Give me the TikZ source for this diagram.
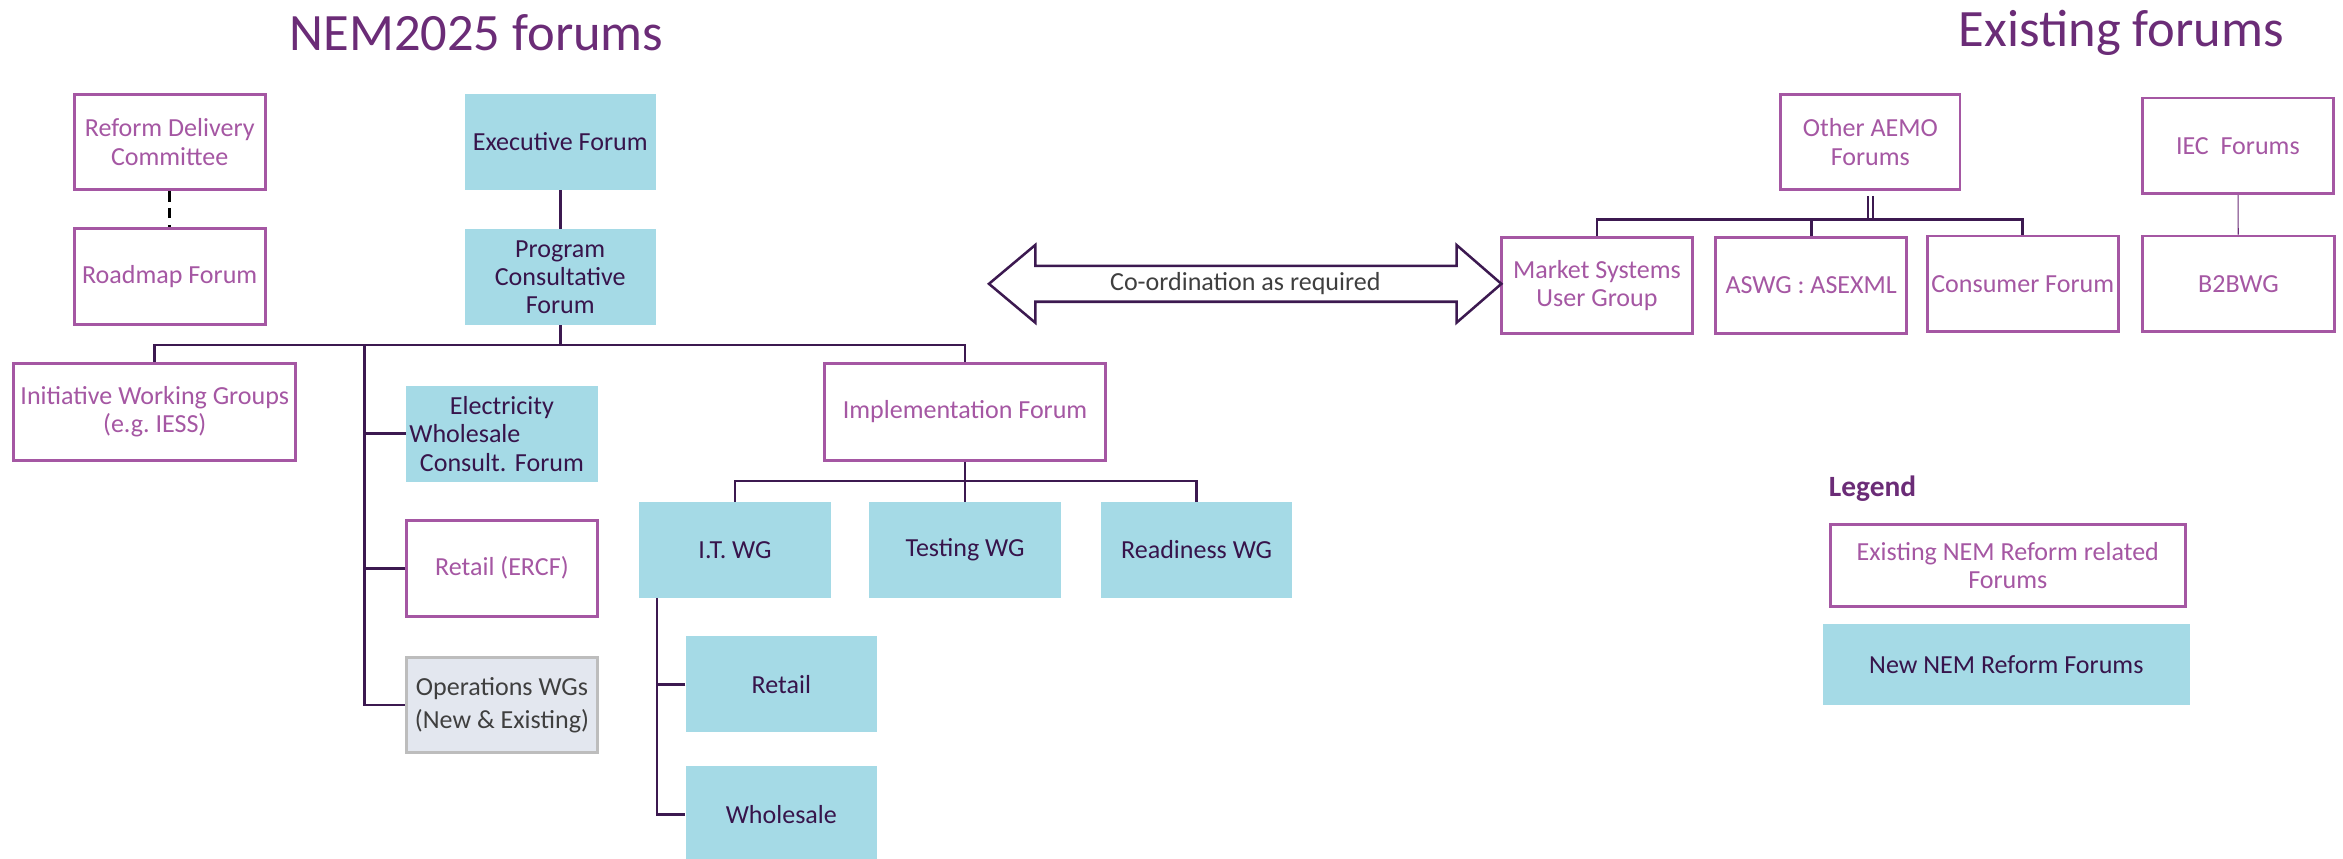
\documentclass[tikz,border=0pt]{standalone}
\usepackage{fontspec}
\setmainfont{Carlito}
\usepackage{tikz}
\usetikzlibrary{arrows.meta,positioning}
\definecolor{newblue}{HTML}{A5DAE6}
\definecolor{oldpurple}{HTML}{A557A3}
\definecolor{darktext}{HTML}{37144B}
\definecolor{linecol}{HTML}{3C1950}
\definecolor{titlecol}{HTML}{6B2C77}
\definecolor{opsfill}{HTML}{E3E7EF}
\definecolor{opsline}{HTML}{BDBDBD}
\definecolor{greytext}{HTML}{3F3F3F}

\begin{document}
\begin{tikzpicture}[
	newbox/.style={fill=newblue,text=darktext,align=center,minimum width=3.2cm,minimum height=1.6cm,inner sep=2pt},
	oldbox/.style={draw=oldpurple,line width=1.4pt,fill=white,text=oldpurple,align=center,minimum width=3.2cm,minimum height=1.6cm,inner sep=2pt},
	link/.style={draw=linecol,line width=1.3pt},
	font=\fontsize{12.4}{13.5}\selectfont
]
	\useasboundingbox (0,0) rectangle (39.21,-14.36);
	\node[text=titlecol,font=\fontsize{25}{30}\selectfont] (t1) at (7.975,-0.55) {NEM2025 forums};
	\node[text=titlecol,font=\fontsize{25}{30}\selectfont] (t2) at (35.5,-0.55) {Existing forums};
	\begin{scope}[every node/.style={oldbox}]
		\node (rdc) at (2.84,-2.375) {Reform Delivery\\Committee};
		\node (rmf) at (2.84,-4.625) {Roadmap Forum};
		\node[minimum width=4.725cm,minimum height=1.625cm] (iwg) at (2.59,-6.89) {Initiative Working Groups\\(e.g.\ IESS)};
		\node (ercf) at (8.4,-9.51) {Retail (ERCF)};
		\node[minimum width=4.7cm,minimum height=1.625cm] (impf) at (16.15,-6.89) {Implementation Forum};
		\node[minimum width=3cm] (aemo) at (31.3,-2.375) {Other AEMO\\Forums};
		\node (msug) at (26.725,-4.775) {Market Systems\\User Group};
		\node (aswg) at (30.31,-4.775) {ASWG : ASEXML};
		\node (cons) at (33.85,-4.75) {Consumer Forum};
		\node (iec) at (37.45,-2.44) {IEC\ \ Forums};
		\node (b2b) at (37.46,-4.75) {B2BWG};
		\node[minimum width=5.95cm,minimum height=1.375cm] (lg1) at (33.6,-9.46) {Existing NEM Reform related\\Forums};
	\end{scope}
	\begin{scope}[every node/.style={newbox}]
		\node (exf) at (9.375,-2.375) {Executive Forum};
		\node (pcf) at (9.375,-4.64) {Program\\Consultative\\Forum};
		\node[text width=3.1cm,inner xsep=0.05cm] (ewcf) at (8.4,-7.26) {Electricity\\\makebox[3.1cm][l]{Wholesale}\\Consult.\ Forum};
		\node (itwg) at (12.3,-9.2) {I.T. WG};
		\node (tswg) at (16.15,-9.2) {Testing WG};
		\node (rdwg) at (20.025,-9.2) {Readiness WG};
		\node (rtl) at (13.075,-11.45) {Retail};
		\node (whs) at (13.075,-13.625) {Wholesale};
		\node[minimum width=6.15cm,minimum height=1.35cm] (lg2) at (33.575,-11.125) {New NEM Reform Forums};
	\end{scope}
	\node[draw=opsline,line width=1.4pt,fill=opsfill,text=greytext,align=center,minimum width=3.2cm,minimum height=1.6cm] (ops) at (8.4,-11.8) {Operations WGs\\[2pt](New \& Existing)};
	\node[anchor=west,inner sep=0pt,text=titlecol,font=\fontsize{14}{16}\selectfont\bfseries] (lgd) at (30.6,-8.175) {Legend};

	\draw[linecol,line width=1.2pt,fill=white] (16.55,-4.75) -- (17.325,-4.1) -- (17.325,-4.45) -- (24.375,-4.45) -- (24.375,-4.1) -- (25.125,-4.75) -- (24.375,-5.4) -- (24.375,-5.05) -- (17.325,-5.05) -- (17.325,-5.4) -- cycle;
	\node[text=greytext] (coord) at (20.84,-4.75) {Co-ordination as required};

	\coordinate (bar) at (9.375,-5.775);
	\coordinate (trunk) at (6.1,-5.775);
	\coordinate (itbar) at (16.15,-8.05);
	\coordinate (ittrunk) at ([xshift=0.3cm]itwg.south west);
	\coordinate (exbar) at (31.3,-3.675);

	\draw[black,line width=1.4pt,dash pattern=on 5pt off 3pt] (rdc.south) -- (rmf.north);
	\draw[link] (exf) -- (pcf);
	\draw[link] (pcf) -- (bar);
	\draw[link] (iwg.north) |- (bar) -| (impf.north);
	\draw[link] (trunk) |- (ops.west);
	\draw[link] (ewcf.west) -- (ewcf.west -| trunk);
	\draw[link] (ercf.west) -- (ercf.west -| trunk);
	\draw[link] (impf) -- (tswg);
	\draw[link] (itwg.north) |- (itbar) -| (rdwg.north);
	\draw[link] (ittrunk) |- (whs.west);
	\draw[link] (rtl.west) -- (rtl.west -| ittrunk);
	\draw[linecol,line width=0.8pt,double=white,double distance=0.05cm] ([yshift=-0.08cm]aemo.south) -- (aemo.south |- exbar);
	\draw[link] (msug.north) |- (exbar) -| (cons.north);
	\draw[link] (aswg.north) -- (aswg.north |- exbar);
	\draw[titlecol,line width=0.5pt] (iec) -- (b2b);
\end{tikzpicture}
\end{document}
